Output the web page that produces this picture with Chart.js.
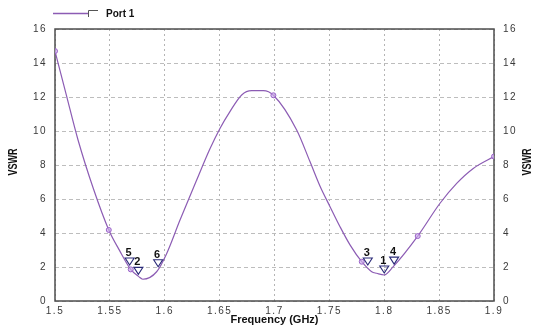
<!DOCTYPE html>
<html>
<head>
<meta charset="utf-8">
<script src="https://cdn.jsdelivr.net/npm/chart.js@4.4.1/dist/chart.umd.min.js"></script>
<style>
  html, body { margin: 0; padding: 0; background: #fff; overflow: hidden; }
  #wrap { width: 543px; height: 329px; position: relative; }
</style>
</head>
<body>
<div id="wrap"><canvas id="c" width="543" height="329"></canvas></div>
<script>
// Port 1 VSWR sweep, 1.5 to 1.9 GHz
const seriesName = 'Port 1';
const freqGHz = [1.5, 1.51, 1.521, 1.535, 1.549, 1.559, 1.569, 1.576, 1.58, 1.5926, 1.6018,
  1.6139, 1.629, 1.6412, 1.6503, 1.6594, 1.6701, 1.6792, 1.6898, 1.699, 1.7202, 1.7323,
  1.7415, 1.7506, 1.7597, 1.7688, 1.7795, 1.7886, 1.7931, 1.8, 1.8082, 1.8305, 1.8508,
  1.866, 1.8811, 1.9];
const vswr = [14.7, 12.2, 9.47, 6.6, 4.18, 2.95, 1.86, 1.45, 1.28, 1.72, 2.8,
  4.76, 7.1, 8.95, 10.15, 11.14, 12.12, 12.37, 12.37, 12.1, 10.06, 8.2,
  6.75, 5.55, 4.37, 3.3, 2.31, 1.72, 1.63, 1.53, 2.02, 3.82, 5.75,
  6.92, 7.8, 8.5];
// sweep points shown with a symbol
const sampleFreqGHz = [1.5, 1.549, 1.569, 1.699, 1.7795, 1.8305, 1.9];

// numbered markers
const markerLabels = ['1', '2', '3', '4', '5', '6'];
const markerFreqGHz = [1.8, 1.576, 1.785, 1.809, 1.568, 1.594];
const markerVswr = [1.53, 1.45, 2.0, 2.05, 2.0, 1.9];

// axis ticks
const xTickLabels = ['1.5', '1.55', '1.6', '1.65', '1.7', '1.75', '1.8', '1.85', '1.9'];
const yTickLabels = ['0', '2', '4', '6', '8', '10', '12', '14', '16'];

const xTitle = 'Frequency (GHz)';
const yTitle = 'VSWR';

const lineColor = '#8c5cb4';
const frameColor = '#4d4d4d';
const tickFont = { family: 'Liberation Sans, Arial, sans-serif', size: 10 };

const points = freqGHz.map((f, i) => ({ x: f, y: vswr[i] }));

function tickValues(labels) {
  return labels.map(t => ({ value: parseFloat(t) }));
}

const decorPlugin = {
  id: 'decor',
  beforeDraw(chart) {
    chart.ctx.letterSpacing = '1.5px';
  },
  beforeDatasetsDraw(chart) {
    const ctx = chart.ctx;
    ctx.letterSpacing = '0px';
    const a = chart.chartArea;
    ctx.save();
    ctx.strokeStyle = frameColor;
    ctx.lineWidth = 1.5;
    ctx.strokeRect(a.left, a.top, a.right - a.left, a.bottom - a.top);
    ctx.restore();
  },
  afterDatasetsDraw(chart) {
    const ctx = chart.ctx;
    const xs = chart.scales.x, ys = chart.scales.y;
    ctx.save();
    ctx.letterSpacing = '0px';
    // numbered triangle markers, tip just above the trace
    markerLabels.forEach((lab, i) => {
      const px = xs.getPixelForValue(markerFreqGHz[i]);
      const py = ys.getPixelForValue(markerVswr[i]) - 2;
      ctx.beginPath();
      ctx.moveTo(px, py);
      ctx.lineTo(px - 4.5, py - 7);
      ctx.lineTo(px + 4.5, py - 7);
      ctx.closePath();
      ctx.strokeStyle = '#2a2a78';
      ctx.lineWidth = 1.1;
      ctx.stroke();
      ctx.fillStyle = '#111';
      ctx.font = 'bold 11px Liberation Sans, Arial, sans-serif';
      ctx.textAlign = 'center';
      ctx.textBaseline = 'middle';
      ctx.fillText(lab, px - 1, py - 12);
    });
    ctx.restore();
  },
  afterDraw(chart) {
    const ctx = chart.ctx;
    const a = chart.chartArea;
    ctx.save();
    ctx.letterSpacing = '0px';
    // legend
    ctx.strokeStyle = lineColor;
    ctx.lineWidth = 1.3;
    ctx.beginPath();
    ctx.moveTo(53, 13.5);
    ctx.lineTo(88, 13.5);
    ctx.stroke();
    ctx.strokeStyle = '#555';
    ctx.lineWidth = 1;
    ctx.beginPath();
    ctx.moveTo(88.5, 17);
    ctx.lineTo(88.5, 10.5);
    ctx.lineTo(98, 10.5);
    ctx.stroke();
    ctx.fillStyle = '#111';
    ctx.font = 'bold 10px Liberation Sans, Arial, sans-serif';
    ctx.textAlign = 'left';
    ctx.textBaseline = 'middle';
    ctx.fillText(seriesName, 106, 14);

    // axis titles
    ctx.font = 'bold 11px Liberation Sans, Arial, sans-serif';
    ctx.textAlign = 'center';
    ctx.fillText(xTitle, (a.left + a.right) / 2, 320);

    const cy = (a.top + a.bottom) / 2 - 3;
    [14, 528].forEach(cx => {
      ctx.save();
      ctx.translate(cx, cy);
      ctx.rotate(-Math.PI / 2);
      ctx.scale(0.75, 1);
      ctx.font = 'bold 12px Liberation Sans, Arial, sans-serif';
      ctx.textAlign = 'center';
      ctx.textBaseline = 'middle';
      ctx.fillText(yTitle, 0, 0);
      ctx.restore();
    });
    ctx.restore();
  }
};

new Chart(document.getElementById('c'), {
  type: 'line',
  data: {
    datasets: [{
      label: seriesName,
      data: points,
      borderColor: lineColor,
      borderWidth: 1.2,
      cubicInterpolationMode: 'monotone',
      fill: false,
      pointStyle: 'circle',
      pointRadius: ctx => sampleFreqGHz.includes(freqGHz[ctx.dataIndex]) ? 2.5 : 0,
      pointBorderColor: '#9a62c8',
      pointBackgroundColor: 'rgba(205,175,235,0.7)',
      pointBorderWidth: 1
    }]
  },
  options: {
    responsive: false,
    animation: false,
    devicePixelRatio: 1,
    layout: { padding: { top: 29, left: 0, right: 0, bottom: 0 } },
    plugins: {
      legend: { display: false },
      tooltip: { enabled: false },
      title: { display: false }
    },
    scales: {
      x: {
        type: 'linear',
        min: 1.5,
        max: 1.9,
        afterBuildTicks: s => { s.ticks = tickValues(xTickLabels); },
        afterFit: s => { s.height = 28; },
        ticks: {
          callback: (v, i) => xTickLabels[i],
          font: tickFont,
          color: '#3a3a3a',
          padding: 4,
          maxRotation: 0,
          autoSkip: false
        },
        grid: { color: '#b4b4b4', lineWidth: 1, drawTicks: false },
        border: { display: false, dash: [2, 3] }
      },
      y: {
        position: 'left',
        min: 0,
        max: 16,
        afterBuildTicks: s => { s.ticks = tickValues(yTickLabels); },
        afterFit: s => { s.width = 55; },
        ticks: {
          callback: (v, i) => yTickLabels[i],
          font: tickFont,
          color: '#3a3a3a',
          padding: 8,
          autoSkip: false
        },
        grid: { color: '#bdbdbd', lineWidth: 1, drawTicks: false },
        border: { display: false, dash: [4, 3] }
      },
      y2: {
        position: 'right',
        min: 0,
        max: 16,
        afterBuildTicks: s => { s.ticks = tickValues(yTickLabels); },
        afterFit: s => { s.width = 49; },
        ticks: {
          callback: (v, i) => yTickLabels[i],
          font: tickFont,
          color: '#3a3a3a',
          padding: 9,
          autoSkip: false
        },
        grid: { display: true, drawOnChartArea: false, drawTicks: false },
        border: { display: false }
      }
    }
  },
  plugins: [decorPlugin]
});
</script>
</body>
</html>
